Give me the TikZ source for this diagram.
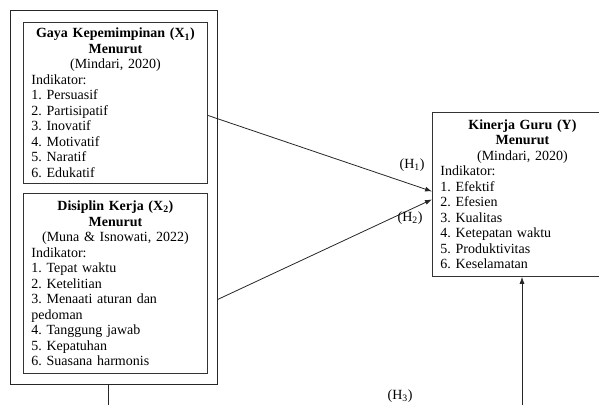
\documentclass[tikz,border=0pt]{standalone}
\usepackage{fontspec}
\setmainfont{Liberation Serif}
\usetikzlibrary{positioning,arrows.meta}

\begin{document}
\begin{tikzpicture}[x=1pt,y=-1pt,>={Latex[length=7pt,width=5pt]},
  varbox/.style={draw=black!80,line width=0.8pt,anchor=north west,inner xsep=8pt,inner ysep=0pt,
    font=\fontsize{14}{15.5}\selectfont\frenchspacing,text width=#1},
  hyp/.style={font=\fontsize{14}{15.5}\selectfont},
  link/.style={->,line width=0.8pt,black!85}]
  \clip (0,0) rectangle (599,405);
  \node[draw=black!85,line width=0.8pt,anchor=north west,minimum width=207,minimum height=374] (frame) at (10,10) {};
  \node[varbox=168pt,minimum width=184,minimum height=161] (gaya) at (23,22)
    {{\centering\bfseries Gaya Kepemimpinan (X\textsubscript{1})\\ Menurut\\ \mdseries (Mindari, 2020)\par}
     \raggedright Indikator:\\ 1. Persuasif\\ 2. Partisipatif\\ 3. Inovatif\\ 4. Motivatif\\ 5. Naratif\\ 6. Edukatif};
  \node[varbox=168pt,minimum width=184,minimum height=180] (disiplin) at (23,193)
    {{\centering\bfseries Disiplin Kerja (X\textsubscript{2})\\ Menurut\\ \mdseries (Muna \& Isnowati, 2022)\par}
     \raggedright Indikator:\\ 1. Tepat waktu\\ 2. Ketelitian\\ 3. Menaati aturan dan\\ pedoman\\ 4. Tanggung jawab\\ 5. Kepatuhan\\ 6. Suasana harmonis};
  \node[varbox=164pt,minimum width=180,minimum height=164] (kinerja) at (432,112)
    {{\centering\bfseries Kinerja Guru (Y)\\ Menurut\\ \mdseries (Mindari, 2020)\par}
     \raggedright Indikator:\\ 1. Efektif\\ 2. Efesien\\ 3. Kualitas\\ 4. Ketepatan waktu\\ 5. Produktivitas\\ 6. Keselamatan};
  \draw[link] ([yshift=-12.5pt]gaya.east) -- ([yshift=3pt]kinerja.west);
  \draw[link] ([yshift=-102pt]frame.east) -- ([yshift=-5pt]kinerja.west);
  \node[hyp] (h1) at (412,165) {(H\textsubscript{1})};
  \node[hyp] (h2) at (410,218) {(H\textsubscript{2})};
  \node[hyp] (h3) at (400,396) {(H\textsubscript{3})};
  \coordinate (down) at (108,405); \coordinate (up) at (522,405);
  \draw[line width=0.8pt,black!85] (frame.south -| down) -- (down);
  \draw[link] (up) -- (kinerja.south -| up);
\end{tikzpicture}
\end{document}
